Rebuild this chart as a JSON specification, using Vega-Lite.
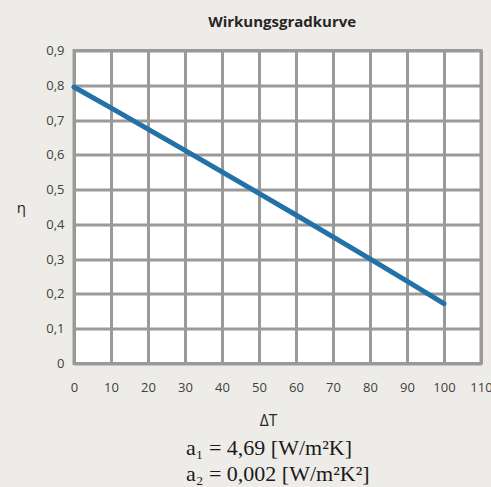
{
  "$schema": "https://vega.github.io/schema/vega-lite/v6.json",
  "background": "#eeece8",
  "padding": {"left": 14, "top": 14.5, "right": 0, "bottom": 0},
  "title": {"text": "Wirkungsgradkurve", "font": "Open Sans", "fontSize": 15, "fontWeight": "bold", "color": "#262626", "anchor": "middle", "offset": 13, "dx": 28},
  "vconcat": [
    {
      "width": 407,
      "height": 313,
      "view": {"fill": "white", "stroke": "#9a9a9a", "strokeWidth": 3},
      "title": {"text": ["a₁ = 4,69 [W/m²K]", "a₂ = 0,002 [W/m²K²]"], "orient": "bottom", "frame": "group", "font": "Liberation Serif", "fontSize": 22, "fontWeight": "normal", "color": "#1a1a1a", "lineHeight": 26, "offset": 9, "anchor": "start", "align": "left", "dx": 112},
      "data": {"values": [
        {"dT": 0, "eta": 0.795},
        {"dT": 10, "eta": 0.735},
        {"dT": 20, "eta": 0.674},
        {"dT": 30, "eta": 0.613},
        {"dT": 40, "eta": 0.551},
        {"dT": 50, "eta": 0.489},
        {"dT": 60, "eta": 0.427},
        {"dT": 70, "eta": 0.364},
        {"dT": 80, "eta": 0.301},
        {"dT": 90, "eta": 0.237},
        {"dT": 100, "eta": 0.172}
      ]},
      "mark": {"type": "line", "color": "#2471a8", "strokeWidth": 5, "strokeCap": "round"},
      "encoding": {
        "x": {"field": "dT", "type": "quantitative", "scale": {"domain": [0, 110], "nice": false},
          "axis": {"title": "ΔT", "values": [0,10,20,30,40,50,60,70,80,90,100,110], "domain": false, "ticks": false, "labelPadding": 18,
            "labelFont": "Open Sans", "labelFontSize": 13, "labelColor": "#404040", "labelFlush": false, "labelOverlap": false,
            "titleFont": "Open Sans", "titleFontSize": 15.5, "titleFontWeight": "normal", "titleColor": "#262626", "titlePadding": 19, "titleX": 194,
            "grid": true, "gridColor": "#9a9a9a", "gridWidth": 3, "gridOpacity": 1}},
        "y": {"field": "eta", "type": "quantitative", "scale": {"domain": [0, 0.9], "nice": false},
          "axis": {"title": "η", "titleAngle": 0, "titleFont": "Open Sans", "titleFontSize": 15, "titleFontWeight": "normal", "titleColor": "#262626", "titlePadding": 25, "titleBaseline": "middle", "titleAlign": "center",
            "values": [0,0.1,0.2,0.3,0.4,0.5,0.6,0.7,0.8,0.9], "labelExpr": "datum.value == 0 ? '0' : replace(format(datum.value, '.1f'), '.', ',')",
            "domain": false, "ticks": false, "labelPadding": 10, "labelFont": "Open Sans", "labelFontSize": 13, "labelColor": "#404040", "labelFlush": false, "labelOverlap": false,
            "grid": true, "gridColor": "#9a9a9a", "gridWidth": 3, "gridOpacity": 1}}
      }
    }
  ]
}
